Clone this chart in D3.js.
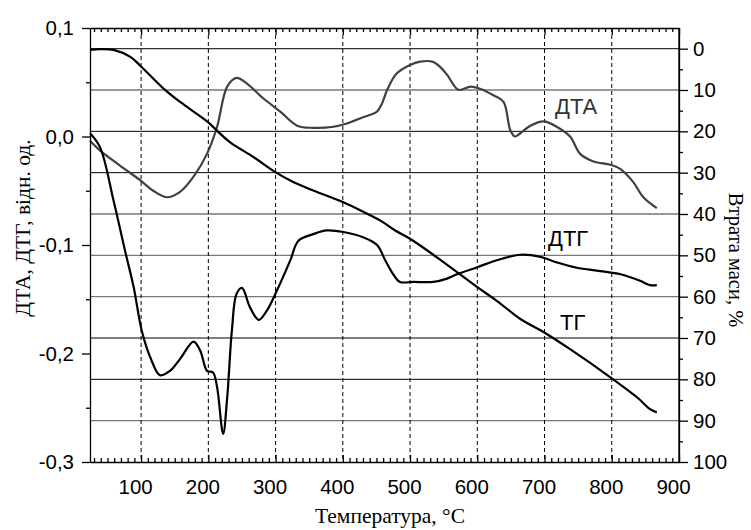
<!DOCTYPE html>
<html>
<head>
<meta charset="utf-8">
<script src="https://cdn.jsdelivr.net/npm/d3@7"></script>
<style>
  html, body { margin: 0; padding: 0; background: #fff; }
  svg { display: block; }
  .tick text { font-family: "Liberation Sans", Arial, sans-serif; font-size: 20.5px; fill: #000; }
  .domain, .tick line { stroke: #000; stroke-width: 1.3px; }
</style>
</head>
<body>
<script>
// ---------- data ----------
const xTicks = [100, 200, 300, 400, 500, 600, 700, 800, 900];
const leftTicks = [0.1, 0.0, -0.1, -0.2, -0.3];
const rightTicks = [0, 10, 20, 30, 40, 50, 60, 70, 80, 90, 100];
const gridMass = [0, 10, 20, 30, 40, 50, 60, 70, 80, 90];
const gridTemp = [100, 200, 300, 400, 500, 600, 700, 800];

// TG — mass loss, %, right axis
const tgT = [24, 39, 59, 84, 98, 133, 158, 199, 212, 232, 267, 299, 327, 356, 400, 431, 456, 478, 500, 540, 600, 629, 664, 699, 738, 798, 838, 857, 867];
const tgV = [0.3, 0.1, 0.3, 2, 4, 9.6, 12.9, 17.7, 19.7, 22.6, 26.2, 29.8, 32.3, 34.3, 37.1, 39.5, 41.6, 44, 46, 50.5, 57.7, 61, 65.4, 68.6, 72.7, 79.5, 84.4, 87.2, 88];

// DTA — left axis
const dtaT = [24, 39, 69, 98, 118, 138, 158, 178, 198, 213, 228, 242, 257, 282, 307, 332, 356, 386, 406, 431, 441, 451, 458, 466, 480, 500, 515, 533, 545, 555, 572, 590, 604, 624, 639, 649, 656, 664, 679, 699, 718, 738, 753, 773, 798, 813, 832, 847, 867];
const dtaV = [-0.004, -0.013, -0.027, -0.040, -0.050, -0.056, -0.051, -0.037, -0.016, 0.009, 0.046, 0.054, 0.049, 0.035, 0.023, 0.010, 0.008, 0.009, 0.012, 0.018, 0.020, 0.023, 0.030, 0.043, 0.058, 0.066, 0.069, 0.069, 0.064, 0.057, 0.043, 0.046, 0.044, 0.038, 0.032, 0.006, 0.000, 0.003, 0.010, 0.014, 0.009, 0.000, -0.016, -0.023, -0.026, -0.030, -0.042, -0.056, -0.066];

// DTG — left axis
const dtgT = [24, 39, 59, 76, 89, 101, 114, 128, 143, 158, 178, 188, 198, 207, 213, 222, 228, 235, 242, 250, 262, 275, 287, 302, 322, 334, 356, 376, 401, 431, 451, 463, 475, 485, 505, 535, 555, 570, 600, 629, 664, 694, 718, 748, 783, 813, 842, 857, 867];
const dtgV = [0.003, -0.010, -0.059, -0.105, -0.139, -0.179, -0.204, -0.220, -0.216, -0.205, -0.189, -0.1975, -0.216, -0.2175, -0.231, -0.274, -0.241, -0.179, -0.145, -0.1395, -0.1575, -0.169, -0.1605, -0.142, -0.114, -0.096, -0.090, -0.0866, -0.088, -0.093, -0.100, -0.114, -0.127, -0.134, -0.134, -0.134, -0.131, -0.127, -0.1205, -0.114, -0.109, -0.111, -0.116, -0.121, -0.124, -0.127, -0.133, -0.137, -0.137];

// ---------- layout ----------
const W = 751, H = 530;
const L = 90, R = 679, T = 28, B = 462;

const svg = d3.select("body").append("svg").attr("width", W).attr("height", H);

const x = d3.scaleLinear().domain([24, 900]).range([L, R]);
const yL = d3.scaleLinear().domain([-0.3, 0.1]).range([B, T]);
const yR = d3.scaleLinear().domain([100, -5]).range([B, T]);

const fmt = d => d.toFixed(1).replace(".", ",").replace("-0,0", "0,0");

// ---------- grid ----------
const gridColors = ["#333", "#777", "#000", "#000", "#777", "#777", "#777", "#000", "#000", "#777"];
svg.append("g").selectAll("line").data(gridMass).join("line")
  .attr("x1", L).attr("x2", R)
  .attr("y1", d => yR(d)).attr("y2", d => yR(d))
  .attr("stroke", (d, i) => gridColors[i]).attr("stroke-width", (d, i) => gridColors[i] === "#000" ? 1 : 1.4);

svg.append("g").selectAll("line").data(gridTemp).join("line")
  .attr("x1", d => x(d)).attr("x2", d => x(d))
  .attr("y1", T).attr("y2", B)
  .attr("stroke", "#000").attr("stroke-width", 1).attr("stroke-dasharray", "4,3");

// ---------- curves ----------
const lineOf = (ts, vs, ys) => d3.line()
  .x((d, i) => x(ts[i])).y((d, i) => ys(vs[i]))
  .curve(d3.curveCatmullRom.alpha(0.5))(vs);

svg.append("path").attr("d", lineOf(dtaT, dtaV, yL))
  .attr("fill", "none").attr("stroke", "#404040").attr("stroke-width", 2.2);
svg.append("path").attr("d", lineOf(dtgT, dtgV, yL))
  .attr("fill", "none").attr("stroke", "#000").attr("stroke-width", 2.2);
svg.append("path").attr("d", lineOf(tgT, tgV, yR))
  .attr("fill", "none").attr("stroke", "#000").attr("stroke-width", 2.2);

// ---------- axes ----------
const minorX = d3.range(30, 900, 10).filter(d => d % 100 !== 0);

// bottom
svg.append("g").attr("transform", `translate(0,${B})`)
  .call(d3.axisBottom(x).tickValues(minorX).tickSize(-4).tickFormat(""))
  .call(g => g.select(".domain").remove());
svg.append("g").attr("transform", `translate(0,${B})`)
  .call(d3.axisBottom(x).tickValues(xTicks).tickSizeInner(-7).tickSizeOuter(0).tickPadding(17).tickFormat(d3.format("d")))
  .call(g => g.selectAll("text").attr("dx", -6));

// top
svg.append("g").attr("transform", `translate(0,${T})`)
  .call(d3.axisTop(x).tickValues(minorX).tickSize(-4).tickFormat(""))
  .call(g => g.select(".domain").remove());
svg.append("g").attr("transform", `translate(0,${T})`)
  .call(d3.axisTop(x).tickValues(xTicks).tickSizeInner(-7).tickSizeOuter(0).tickFormat(""));

// left
svg.append("g").attr("transform", `translate(${L},0)`)
  .call(d3.axisLeft(yL).tickValues([0.05, -0.05, -0.15, -0.25]).tickSize(4).tickFormat(""))
  .call(g => g.select(".domain").remove());
svg.append("g").attr("transform", `translate(${L},0)`)
  .call(d3.axisLeft(yL).tickValues(leftTicks).tickSizeInner(8).tickSizeOuter(0).tickPadding(8).tickFormat(fmt));

// right
svg.append("g").attr("transform", `translate(${R},0)`)
  .call(d3.axisRight(yR).tickValues(d3.range(5, 100, 10)).tickSize(4).tickFormat(""))
  .call(g => g.select(".domain").remove());
svg.append("g").attr("transform", `translate(${R},0)`)
  .call(d3.axisRight(yR).tickValues(rightTicks).tickSizeInner(9).tickSizeOuter(0).tickPadding(5).tickFormat(d3.format("d")));
svg.append("line").attr("x1", R).attr("x2", R).attr("y1", T).attr("y2", B).attr("stroke", "#000").attr("stroke-width", 1.3);

// ---------- titles ----------
const serif = '"Liberation Serif", "Times New Roman", serif';
svg.append("text").attr("transform", `translate(30,228) rotate(-90)`)
  .attr("text-anchor", "middle").attr("font-family", serif).attr("font-size", 21.5)
  .text("ДТА, ДТГ, відн. од.");
svg.append("text").attr("transform", `translate(729,260) rotate(90)`)
  .attr("text-anchor", "middle").attr("font-family", serif).attr("font-size", 20.5)
  .text("Втрата маси, %");
svg.append("text").attr("x", 390).attr("y", 523)
  .attr("text-anchor", "middle").attr("font-family", serif).attr("font-size", 21.5)
  .text("Температура, °C");

// ---------- curve labels ----------
const sans = '"Liberation Sans", Arial, sans-serif';
svg.append("text").attr("x", 555).attr("y", 114).attr("font-family", sans).attr("font-size", 22).attr("fill", "#333").text("ДТА");
svg.append("text").attr("x", 548).attr("y", 246).attr("font-family", sans).attr("font-size", 22).attr("fill", "#000").text("ДТГ");
svg.append("text").attr("x", 560).attr("y", 330).attr("font-family", sans).attr("font-size", 22).attr("fill", "#000").text("ТГ");
</script>
</body>
</html>
